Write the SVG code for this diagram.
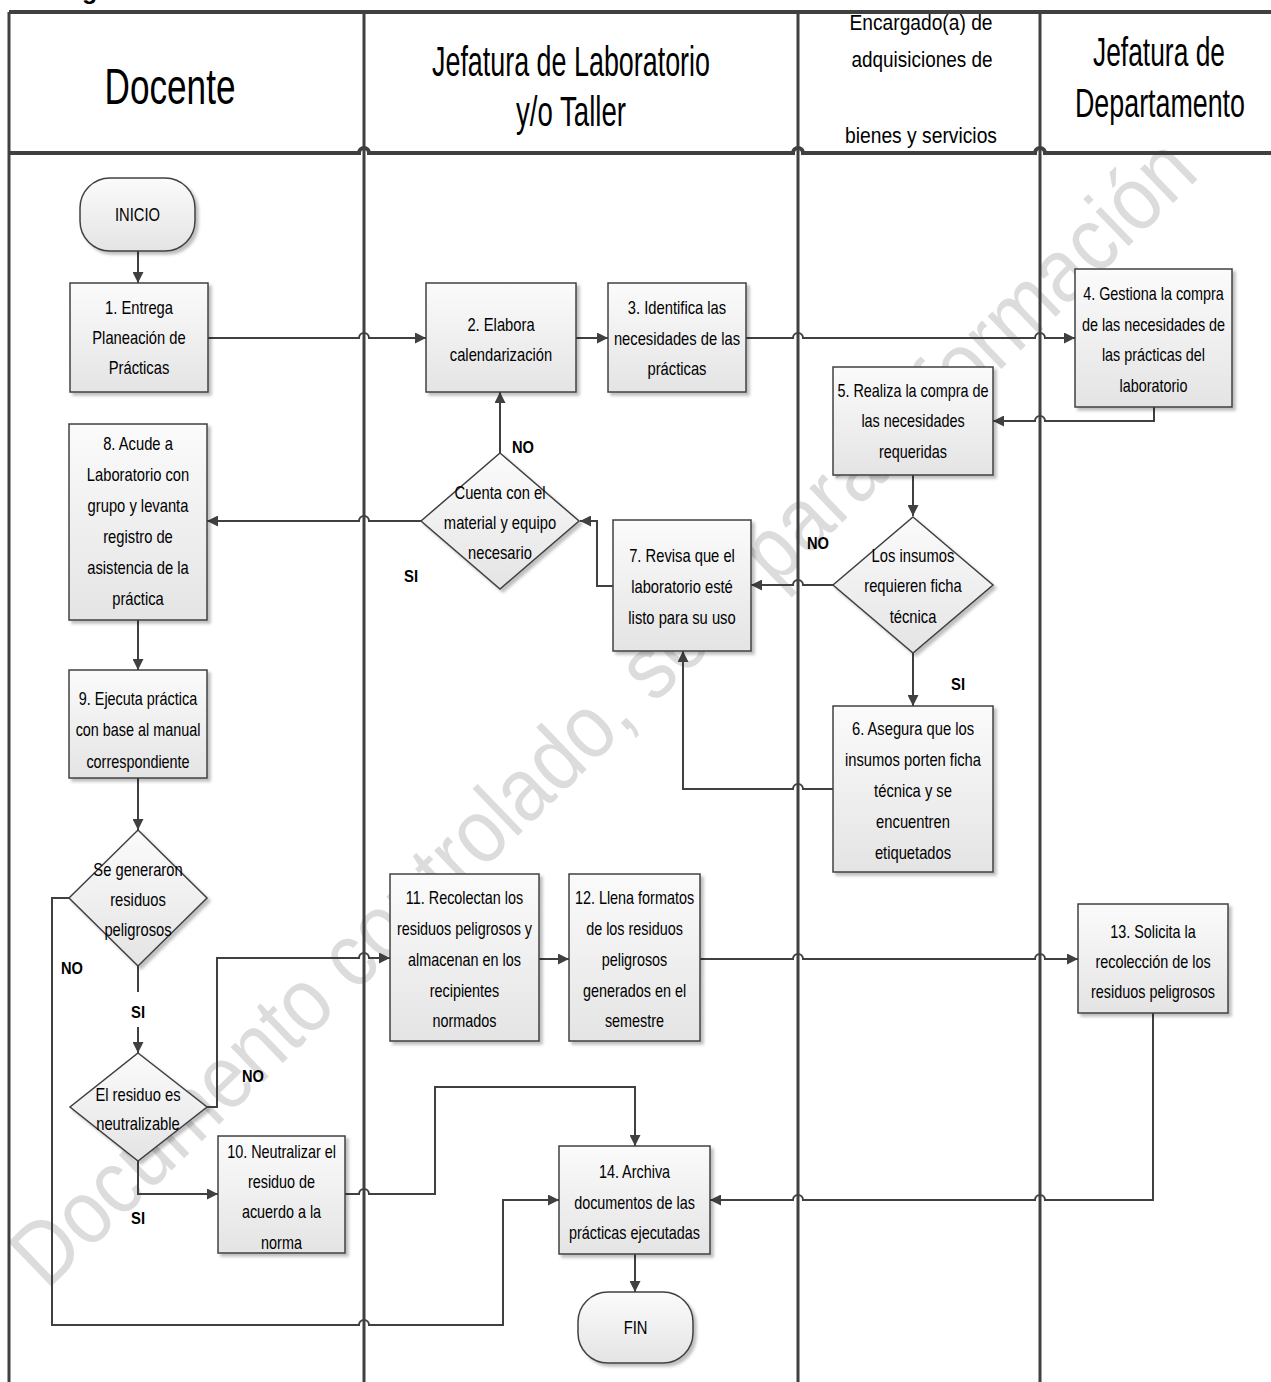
<svg xmlns="http://www.w3.org/2000/svg" width="1271" height="1382" viewBox="0 0 1271 1382">
<defs>
<linearGradient id="gf" x1="0" y1="0" x2="0" y2="1">
<stop offset="0" stop-color="#fbfbfb"/>
<stop offset="1" stop-color="#e4e4e4"/>
</linearGradient>
<filter id="sh" x="-10%" y="-10%" width="130%" height="130%">
<feDropShadow dx="3" dy="3" stdDeviation="1.5" flood-color="#000" flood-opacity="0.25"/>
</filter>
<marker id="ar" viewBox="0 0 10 10" refX="10" refY="5" markerWidth="12" markerHeight="11" markerUnits="userSpaceOnUse" orient="auto">
<path d="M0,0 L10,5 L0,10 z" fill="#404040"/>
</marker>
</defs>
<style>
.wm{font-family:"Liberation Sans",sans-serif;font-size:90px;fill:#dcdcdc}
.lane{stroke:#404040;stroke-width:3;fill:none}
.pool{stroke:#404040;stroke-width:4;fill:none}
.box{fill:url(#gf);stroke:#404040;stroke-width:1.5;filter:url(#sh)}
.t{font-family:"Liberation Sans",Arial,sans-serif;font-size:18px;fill:#000;text-anchor:middle}
.lb{font-family:"Liberation Sans",Arial,sans-serif;font-size:17px;font-weight:bold;fill:#000;text-anchor:middle}
.h{font-family:"Liberation Sans",Arial,sans-serif;fill:#000;text-anchor:middle}
.c{stroke:#404040;stroke-width:2;fill:none}
.ca{stroke:#404040;stroke-width:2;fill:none;marker-end:url(#ar)}
</style>
<rect width="1271" height="1382" fill="#fff"/>

<text x="43" y="-1" font-family="Liberation Sans, Arial, sans-serif" font-size="25" font-weight="bold" fill="#000">Diagrama</text>

<!-- watermark -->
<text class="wm" x="603" y="742" transform="rotate(-44 603 712)" text-anchor="middle" textLength="1605" lengthAdjust="spacingAndGlyphs">Documento controlado, solo para información</text>

<!-- pool and lanes -->
<g id="pool">
<path class="lane" d="M9,12 V1382 M364,12 V1382 M798,12 V1382 M1040,12 V1382"/>
<path class="pool" d="M9,12 H1271"/>
<path class="pool" d="M9,153 H359 a5,5 0 0 1 10,0 H793 a5,5 0 0 1 10,0 H1035 a5,5 0 0 1 10,0 H1271"/>
<text class="h" x="170" y="104" font-size="50" textLength="131" lengthAdjust="spacingAndGlyphs">Docente</text>
<text class="h" x="571" y="76" font-size="42" textLength="278" lengthAdjust="spacingAndGlyphs">Jefatura de Laboratorio</text>
<text class="h" x="571" y="126" font-size="42" textLength="110" lengthAdjust="spacingAndGlyphs">y/o Taller</text>
<text class="h" x="921" y="30" font-size="22" textLength="143" lengthAdjust="spacingAndGlyphs">Encargado(a) de</text>
<text class="h" x="922" y="67" font-size="22" textLength="141" lengthAdjust="spacingAndGlyphs">adquisiciones de</text>
<text class="h" x="921" y="143" font-size="22" textLength="152" lengthAdjust="spacingAndGlyphs">bienes y servicios</text>
<text class="h" x="1159" y="66" font-size="40" textLength="132" lengthAdjust="spacingAndGlyphs">Jefatura de</text>
<text class="h" x="1160" y="117" font-size="40" textLength="170" lengthAdjust="spacingAndGlyphs">Departamento</text>
</g>

<!-- connectors -->
<g id="connectors">
<path class="ca" d="M138,251 V283"/>
<path class="ca" d="M208,338 H359 a5,5 0 0 1 10,0 H426"/>
<path class="ca" d="M576,338 H608"/>
<path class="ca" d="M746,338 H793 a5,5 0 0 1 10,0 H1035 a5,5 0 0 1 10,0 H1075"/>
<path class="ca" d="M1154,407 V421 H1045 a5,5 0 0 0 -10,0 H993"/>
<path class="ca" d="M913,475 V516"/>
<path class="ca" d="M833,585 H803 a5,5 0 0 0 -10,0 H751"/>
<path class="ca" d="M913,653 V706"/>
<path class="ca" d="M833,789 H803 a5,5 0 0 0 -10,0 H683 V651"/>
<path class="ca" d="M613,586 H597 V521 H580"/>
<path class="ca" d="M500,453 V392"/>
<path class="ca" d="M421,521 H369 a5,5 0 0 0 -10,0 H207"/>
<path class="ca" d="M138,620 V670"/>
<path class="ca" d="M138,778 V830"/>
<path class="c" d="M138,966 V992"/>
<path class="ca" d="M138,1027 V1053"/>
<path class="ca" d="M69,898 H52 V1325 H359 a5,5 0 0 1 10,0 H503 V1200 H559"/>
<path class="ca" d="M207,1107 H217 V958 H359 a5,5 0 0 1 10,0 H390"/>
<path class="ca" d="M138,1161 V1194 H218"/>
<path class="ca" d="M539,959 H569"/>
<path class="ca" d="M700,959 H793 a5,5 0 0 1 10,0 H1035 a5,5 0 0 1 10,0 H1078"/>
<path class="ca" d="M1153,1013 V1200 H1045 a5,5 0 0 0 -10,0 H803 a5,5 0 0 0 -10,0 H710"/>
<path class="ca" d="M345,1194 H359 a5,5 0 0 1 10,0 H435 V1087 H635 V1146"/>
<path class="ca" d="M635,1254 V1292"/>
<text class="lb" x="523" y="453" textLength="22" lengthAdjust="spacingAndGlyphs">NO</text>
<text class="lb" x="411" y="582" textLength="14" lengthAdjust="spacingAndGlyphs">SI</text>
<text class="lb" x="818" y="549" textLength="22" lengthAdjust="spacingAndGlyphs">NO</text>
<text class="lb" x="958" y="690" textLength="14" lengthAdjust="spacingAndGlyphs">SI</text>
<text class="lb" x="72" y="974" textLength="22" lengthAdjust="spacingAndGlyphs">NO</text>
<text class="lb" x="138" y="1018" textLength="14" lengthAdjust="spacingAndGlyphs">SI</text>
<text class="lb" x="253" y="1082" textLength="22" lengthAdjust="spacingAndGlyphs">NO</text>
<text class="lb" x="138" y="1224" textLength="14" lengthAdjust="spacingAndGlyphs">SI</text>
</g>

<!-- nodes -->
<g id="inicio"><rect class="box" x="80" y="178" width="115" height="73" rx="30"/>
<g transform="translate(137.5 0) scale(0.82 1)"><text class="t" x="0" y="221">INICIO</text></g></g>
<g id="n1"><rect class="box" x="70" y="283" width="138" height="109"/>
<g transform="translate(139 0) scale(0.82 1)"><text class="t" x="0" y="314">1. Entrega</text><text class="t" x="0" y="344">Planeación de</text><text class="t" x="0" y="374">Prácticas</text></g></g>
<g id="n2"><rect class="box" x="426" y="283" width="150" height="109"/>
<g transform="translate(501 0) scale(0.82 1)"><text class="t" x="0" y="331">2. Elabora</text><text class="t" x="0" y="361">calendarización</text></g></g>
<g id="n3"><rect class="box" x="608" y="283" width="138" height="109"/>
<g transform="translate(677 0) scale(0.82 1)"><text class="t" x="0" y="314">3. Identifica las</text><text class="t" x="0" y="345">necesidades de las</text><text class="t" x="0" y="375">prácticas</text></g></g>
<g id="n4"><rect class="box" x="1075" y="269" width="157" height="138"/>
<g transform="translate(1153.5 0) scale(0.8 1)"><text class="t" x="0" y="300">4. Gestiona la compra</text><text class="t" x="0" y="331">de las necesidades de</text><text class="t" x="0" y="361">las prácticas del</text><text class="t" x="0" y="392">laboratorio</text></g></g>
<g id="n5"><rect class="box" x="833" y="367" width="160" height="108"/>
<g transform="translate(913 0) scale(0.8 1)"><text class="t" x="0" y="397">5. Realiza la compra de</text><text class="t" x="0" y="427">las necesidades</text><text class="t" x="0" y="458">requeridas</text></g></g>
<g id="d1"><path class="box" d="M913,517 L993,585 L913,653 L833,585 z"/>
<g transform="translate(913 0) scale(0.82 1)"><text class="t" x="0" y="562">Los insumos</text><text class="t" x="0" y="592">requieren ficha</text><text class="t" x="0" y="623">técnica</text></g></g>
<g id="n6"><rect class="box" x="833" y="706" width="160" height="166"/>
<g transform="translate(913 0) scale(0.82 1)"><text class="t" x="0" y="735">6. Asegura que los</text><text class="t" x="0" y="766">insumos porten ficha</text><text class="t" x="0" y="797">técnica y se</text><text class="t" x="0" y="828">encuentren</text><text class="t" x="0" y="859">etiquetados</text></g></g>
<g id="n7"><rect class="box" x="613" y="520" width="138" height="131"/>
<g transform="translate(682 0) scale(0.82 1)"><text class="t" x="0" y="562">7. Revisa que el</text><text class="t" x="0" y="593">laboratorio esté</text><text class="t" x="0" y="624">listo para su uso</text></g></g>
<g id="d2"><path class="box" d="M500,453 L579,521 L500,589 L421,521 z"/>
<g transform="translate(500 0) scale(0.82 1)"><text class="t" x="0" y="499">Cuenta con el</text><text class="t" x="0" y="529">material y equipo</text><text class="t" x="0" y="559">necesario</text></g></g>
<g id="n8"><rect class="box" x="69" y="424" width="138" height="196"/>
<g transform="translate(138 0) scale(0.82 1)"><text class="t" x="0" y="450">8. Acude a</text><text class="t" x="0" y="481">Laboratorio con</text><text class="t" x="0" y="512">grupo y levanta</text><text class="t" x="0" y="543">registro de</text><text class="t" x="0" y="574">asistencia de la</text><text class="t" x="0" y="605">práctica</text></g></g>
<g id="n9"><rect class="box" x="69" y="670" width="138" height="108"/>
<g transform="translate(138 0) scale(0.8 1)"><text class="t" x="0" y="705">9. Ejecuta práctica</text><text class="t" x="0" y="736">con base al manual</text><text class="t" x="0" y="768">correspondiente</text></g></g>
<g id="d3"><path class="box" d="M138,830 L207,898 L138,966 L69,898 z"/>
<g transform="translate(138 0) scale(0.82 1)"><text class="t" x="0" y="876">Se generaron</text><text class="t" x="0" y="906">residuos</text><text class="t" x="0" y="936">peligrosos</text></g></g>
<g id="d4"><path class="box" d="M138,1053 L207,1107 L138,1161 L70,1107 z"/>
<g transform="translate(138 0) scale(0.82 1)"><text class="t" x="0" y="1101">El residuo es</text><text class="t" x="0" y="1130">neutralizable</text></g></g>
<g id="n10"><rect class="box" x="218" y="1136" width="127" height="117"/>
<g transform="translate(281.5 0) scale(0.8 1)"><text class="t" x="0" y="1158">10. Neutralizar el</text><text class="t" x="0" y="1188">residuo de</text><text class="t" x="0" y="1218">acuerdo a la</text><text class="t" x="0" y="1249">norma</text></g></g>
<g id="n11"><rect class="box" x="390" y="874" width="149" height="167"/>
<g transform="translate(464.5 0) scale(0.8 1)"><text class="t" x="0" y="904">11. Recolectan los</text><text class="t" x="0" y="935">residuos peligrosos y</text><text class="t" x="0" y="966">almacenan en los</text><text class="t" x="0" y="997">recipientes</text><text class="t" x="0" y="1027">normados</text></g></g>
<g id="n12"><rect class="box" x="569" y="874" width="131" height="167"/>
<g transform="translate(634.5 0) scale(0.8 1)"><text class="t" x="0" y="904">12. Llena formatos</text><text class="t" x="0" y="935">de los residuos</text><text class="t" x="0" y="966">peligrosos</text><text class="t" x="0" y="997">generados en el</text><text class="t" x="0" y="1027">semestre</text></g></g>
<g id="n13"><rect class="box" x="1078" y="904" width="150" height="109"/>
<g transform="translate(1153 0) scale(0.8 1)"><text class="t" x="0" y="938">13. Solicita la</text><text class="t" x="0" y="968">recolección de los</text><text class="t" x="0" y="998">residuos peligrosos</text></g></g>
<g id="n14"><rect class="box" x="559" y="1146" width="151" height="108"/>
<g transform="translate(634.5 0) scale(0.8 1)"><text class="t" x="0" y="1178">14. Archiva</text><text class="t" x="0" y="1209">documentos de las</text><text class="t" x="0" y="1239">prácticas ejecutadas</text></g></g>
<g id="fin"><rect class="box" x="578" y="1292" width="115" height="71" rx="30"/>
<g transform="translate(635.5 0) scale(0.82 1)"><text class="t" x="0" y="1334">FIN</text></g></g>
</svg>
